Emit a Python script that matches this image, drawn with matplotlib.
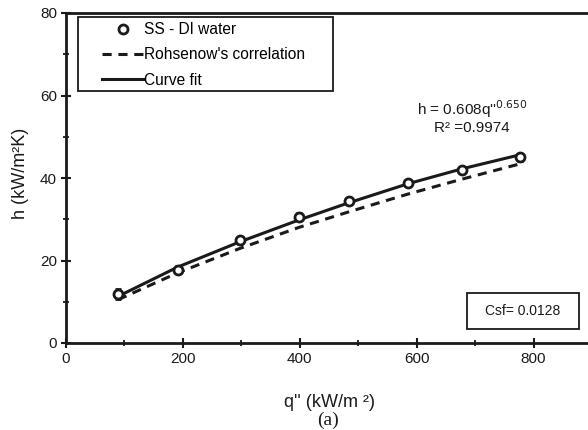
import matplotlib.pyplot as plt
from matplotlib.patches import Rectangle

plt.rcParams['font.family'] = ['Liberation Sans', 'DejaVu Sans']

# measured data (SS - DI water)
q = [89, 191, 297, 398, 484, 585, 677, 776]
h = [11.8, 17.8, 24.9, 30.6, 34.4, 38.8, 41.9, 45.0]
h_err = [1.2, 0.8, 0.8, 0.8, 0.8, 0.8, 0.8, 0.8]

# Rohsenow's correlation
h_rohsenow = [10.5, 17.0, 22.9, 28.0, 31.8, 36.1, 39.7, 43.4]

# curve fit h = 0.608 q''^0.650, read at the same q
h_fit = [11.3, 18.4, 24.5, 29.8, 34.0, 38.6, 42.2, 45.6]

dark = '#1a1a1a'

fig = plt.figure(figsize=(5.88, 4.30), dpi=100)
ax = fig.add_axes([66/588, 87/430, 526/588, 330/430])

l_roh, = ax.plot(q, h_rohsenow, color=dark, lw=2.2, ls=(0, (3.0, 2.2)), zorder=2)
l_fit, = ax.plot(q, h_fit, color=dark, lw=2.2, zorder=3)
ax.errorbar(q, h, yerr=h_err, fmt='none', ecolor=dark, elinewidth=1.5,
            capsize=2.5, capthick=2, zorder=4)
l_pts, = ax.plot(q, h, 'o', ms=6.5, mfc='white', mec=dark, mew=2, zorder=5)

ax.set_xlim(0, 900)
ax.set_ylim(0, 80)
ax.set_xticks([0, 200, 400, 600, 800])
ax.set_xticks([100, 300, 500, 700], minor=True)
ax.set_yticks([0, 20, 40, 60, 80])
ax.set_yticks([10, 30, 50, 70], minor=True)
ax.tick_params(which='major', direction='inout', length=7, width=1.5,
               labelsize=11, colors=dark, pad=3)
ax.tick_params(which='minor', direction='inout', length=5, width=1.3, colors=dark)
for s in ['left', 'bottom', 'top']:
    ax.spines[s].set_linewidth(2)
    ax.spines[s].set_color(dark)
ax.spines['right'].set_visible(False)

ax.set_ylabel('h (kW/m²K)', fontsize=13, color=dark)
ax.yaxis.set_label_coords(-0.07, 0.515)
ax.set_xlabel("q'' (kW/m ²)", fontsize=13, color=dark, labelpad=20)
fig.text(328/588, 1 - 420/430, '(a)', family='Liberation Serif', fontsize=14,
         ha='center', va='center', color=dark)

# legend frame drawn by hand (wider side padding than matplotlib's)
frame = Rectangle((12/526, (343-91)/330), 255/526, 74/330, transform=ax.transAxes,
                  fill=True, fc='white', ec=dark, lw=1.3, zorder=6)
ax.add_patch(frame)
leg = ax.legend([l_pts, l_roh, l_fit],
                ['SS - DI water', "Rohsenow's correlation", 'Curve fit'],
                loc='upper left', bbox_to_anchor=(36/526, (343-22)/330), fontsize=11.2,
                frameon=False, handlelength=2.7, handletextpad=0.0,
                labelspacing=0.66, borderpad=0.0, borderaxespad=0)
leg.set_zorder(7)

ax.text(695, 56.6, "h = 0.608q''$^{0.650}$", fontsize=11, ha='center',
        va='center', color=dark)
ax.text(695, 52.0, 'R² =0.9974', fontsize=11, ha='center', va='center', color=dark)

# Csf box
ax.add_patch(Rectangle((686, 3.4), 192, 8.7, fill=True, fc='white', ec=dark,
                       lw=1.3, zorder=6))
ax.text(782, 7.75, 'Csf= 0.0128', fontsize=10, ha='center', va='center',
        color=dark, zorder=7)

plt.savefig('out.png', dpi=100)
